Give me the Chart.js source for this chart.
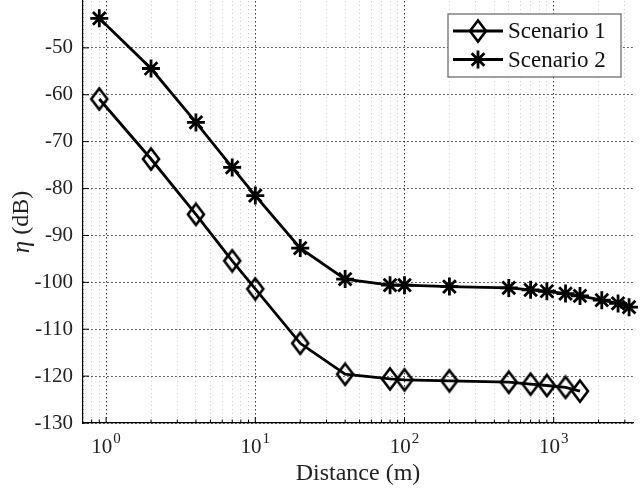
<!DOCTYPE html>
<html>
<head>
<meta charset="utf-8">
<script src="https://cdn.jsdelivr.net/npm/chart.js@4.4.1/dist/chart.umd.min.js"></script>
<style>
  html, body { margin: 0; padding: 0; background: #fff; }
  #wrap { width: 640px; height: 492px; }
</style>
</head>
<body>
<div id="wrap"><canvas id="chart" width="640" height="492"></canvas></div>
<script>
// --- data ---
const seriesNames = ["Scenario 1", "Scenario 2"];

const distances1 = [0.9, 2, 4, 7, 10, 20, 40, 80, 100, 200, 500, 700, 900, 1200, 1500];
const scenario1 = [-60.9, -73.7, -85.5, -95.4, -101.4, -113.0, -119.6, -120.6, -120.8,
                   -121.0, -121.3, -121.7, -122.0, -122.4, -123.2];

const distances2 = [0.9, 2, 4, 7, 10, 20, 40, 80, 100, 200, 500, 700, 900, 1200, 1500,
                    2100, 2700, 3200];
const scenario2 = [-43.7, -54.4, -65.9, -75.5, -81.5, -92.7, -99.3, -100.6, -100.6,
                   -100.9, -101.2, -101.6, -101.9, -102.4, -102.9, -103.8, -104.5, -105.3];

// x ticks are powers of ten: base "10" with these exponents
const xTickValues = [1, 10, 100, 1000];
const xTickExponents = ["0", "1", "2", "3"];
const yTickValues = [-130, -120, -110, -100, -90, -80, -70, -60, -50];

const FONT = "'Liberation Serif', 'Times New Roman', serif";
Chart.defaults.font.family = FONT;
Chart.defaults.color = "#222";

// log-axis helpers
function mantissa(v) {
  const e = Math.floor(Math.log10(v) + 1e-9);
  return v / Math.pow(10, e);
}
function isNice(v) {
  const m = mantissa(v);
  return Math.abs(m - Math.round(m)) < 1e-6;
}
function isDecade(v) {
  return Math.abs(mantissa(v) - 1) < 1e-6;
}

// hollow diamond marker (MATLAB style, a bit taller than wide)
function diamondMarker() {
  const c = document.createElement("canvas");
  c.width = 22; c.height = 26;
  const g = c.getContext("2d");
  g.strokeStyle = "#000";
  g.lineWidth = 2.6;
  g.lineJoin = "miter";
  g.beginPath();
  g.moveTo(11, 2.5);
  g.lineTo(19, 13);
  g.lineTo(11, 23.5);
  g.lineTo(3, 13);
  g.closePath();
  g.stroke();
  return c;
}
const diamond = diamondMarker();

// ticks pointing into the plot area
const innerTicks = {
  id: "innerTicks",
  afterDraw(chart) {
    const { ctx, chartArea: a, scales: { x, y } } = chart;
    ctx.save();
    ctx.strokeStyle = "#000";
    ctx.lineWidth = 1;
    x.ticks.forEach((t) => {
      if (!isNice(t.value)) return;
      const px = x.getPixelForValue(t.value);
      if (px < a.left + 0.5 || px > a.right) return;
      const len = isDecade(t.value) ? 6 : 3.5;
      ctx.beginPath();
      ctx.moveTo(px, a.bottom);
      ctx.lineTo(px, a.bottom - len);
      ctx.stroke();
    });
    y.ticks.forEach((t) => {
      if (!yTickValues.includes(t.value)) return;
      const py = y.getPixelForValue(t.value);
      ctx.beginPath();
      ctx.moveTo(a.left, py);
      ctx.lineTo(a.left + 6, py);
      ctx.stroke();
    });
    ctx.restore();
  }
};

// "10" with a raised exponent, centred on each decade tick
const powerLabels = {
  id: "powerLabels",
  afterDraw(chart) {
    const { ctx, chartArea: a, scales: { x } } = chart;
    ctx.save();
    ctx.fillStyle = "#222";
    ctx.textBaseline = "middle";
    ctx.textAlign = "left";
    xTickValues.forEach((v, i) => {
      const px = x.getPixelForValue(v);
      ctx.font = "21px " + FONT;
      const wBase = ctx.measureText("10").width;
      ctx.font = "15px " + FONT;
      const wExp = ctx.measureText(xTickExponents[i]).width;
      const left = px - (wBase + wExp + 1) / 2;
      ctx.font = "21px " + FONT;
      ctx.fillText("10", left, a.bottom + 24);
      ctx.font = "15px " + FONT;
      ctx.fillText(xTickExponents[i], left + wBase + 1, a.bottom + 16);
    });
    ctx.restore();
  }
};

// y title with an italic eta
const yTitle = {
  id: "yTitle",
  afterDraw(chart) {
    const { ctx } = chart;
    ctx.save();
    ctx.translate(22, 222);
    ctx.rotate(-Math.PI / 2);
    ctx.fillStyle = "#222";
    ctx.textBaseline = "middle";
    ctx.textAlign = "left";
    ctx.font = "italic 25px " + FONT;
    const wEta = ctx.measureText("\u03B7").width;
    ctx.font = "24px " + FONT;
    const wRest = ctx.measureText(" (dB)").width;
    const left = -(wEta + wRest) / 2;
    ctx.font = "italic 25px " + FONT;
    ctx.fillText("\u03B7", left, 0);
    ctx.font = "24px " + FONT;
    ctx.fillText(" (dB)", left + wEta, 0);
    ctx.restore();
  }
};

// boxed legend inside the upper right corner
const boxLegend = {
  id: "boxLegend",
  afterDraw(chart) {
    const { ctx, chartArea: a } = chart;
    const w = 173, h = 63;
    const bx = a.right - 12 - w, by = a.top + 13;
    ctx.save();
    ctx.fillStyle = "#fff";
    ctx.fillRect(bx, by, w, h);
    ctx.strokeStyle = "#6e6e6e";
    ctx.lineWidth = 1.3;
    ctx.strokeRect(bx, by, w, h);
    ctx.font = "23px " + FONT;
    ctx.textBaseline = "middle";
    seriesNames.forEach((name, i) => {
      const cy = by + 17 + i * 28.5;
      ctx.strokeStyle = "#000";
      ctx.lineWidth = 2.8;
      ctx.beginPath();
      ctx.moveTo(bx + 5, cy);
      ctx.lineTo(bx + 55, cy);
      ctx.stroke();
      if (i === 0) {
        ctx.drawImage(diamond, bx + 30 - diamond.width / 2, cy - diamond.height / 2);
      } else {
        ctx.fillStyle = "#000";
        Chart.helpers.drawPoint(ctx, { pointStyle: "star", radius: 9, borderWidth: 2.8, rotation: 0 }, bx + 30, cy);
      }
      ctx.fillStyle = "#111";
      ctx.fillText(name, bx + 60, cy + 1);
    });
    ctx.restore();
  }
};

const majorGrid = "rgba(25,25,25,0.85)";
const minorGrid = "rgba(0,0,0,0.2)";

new Chart(document.getElementById("chart"), {
  type: "line",
  data: {
    datasets: [
      {
        label: seriesNames[0],
        data: distances1.map((d, i) => ({ x: d, y: scenario1[i] })),
        borderColor: "#000",
        borderWidth: 2.8,
        pointStyle: diamond,
        pointRadius: 10,
        pointHoverRadius: 10,
        tension: 0,
        clip: false
      },
      {
        label: seriesNames[1],
        data: distances2.map((d, i) => ({ x: d, y: scenario2[i] })),
        borderColor: "#000",
        backgroundColor: "#000",
        borderWidth: 2.8,
        pointStyle: "star",
        pointRadius: 9,
        pointHoverRadius: 9,
        pointBorderWidth: 2.8,
        pointBorderColor: "#000",
        tension: 0,
        clip: false
      }
    ]
  },
  options: {
    responsive: false,
    animation: false,
    layout: { autoPadding: false, padding: { top: 1, right: 7, bottom: 0, left: 0 } },
    plugins: {
      legend: { display: false },
      tooltip: { enabled: false }
    },
    scales: {
      x: {
        type: "logarithmic",
        min: 0.7,
        max: 3400,
        afterFit: (scale) => {
          scale.height = 69;
          scale.paddingLeft = 0;
          scale.paddingRight = 0;
        },
        grid: {
          drawTicks: false,
          lineWidth: 1,
          color: (ctx) => {
            const v = ctx.tick && ctx.tick.value;
            if (!v || !isNice(v)) return "rgba(0,0,0,0)";
            return isDecade(v) ? majorGrid : minorGrid;
          }
        },
        border: {
          color: "#000",
          width: 1.2,
          dash: (ctx) => {
            const v = ctx.tick && ctx.tick.value;
            if (!v) return [];
            return isDecade(v) ? [1.5, 2.5] : [1, 3];
          }
        },
        ticks: {
          autoSkip: false,
          maxRotation: 0,
          padding: 9,
          font: { size: 21 },
          callback: () => ""
        },
        title: {
          display: true,
          text: "Distance (m)",
          font: { size: 24 },
          color: "#222",
          padding: { top: 0, bottom: 4 }
        }
      },
      y: {
        min: -130,
        max: -40,
        afterFit: (scale) => {
          scale.width = 83;
          scale.paddingTop = 0;
          scale.paddingBottom = 0;
        },
        grid: {
          drawTicks: false,
          lineWidth: 1,
          color: (ctx) => {
            const v = ctx.tick && ctx.tick.value;
            return yTickValues.includes(v) ? majorGrid : "rgba(0,0,0,0)";
          }
        },
        border: {
          color: "#000",
          width: 1.2,
          dash: (ctx) => (ctx.tick ? [1.5, 2.5] : [])
        },
        ticks: {
          stepSize: 10,
          padding: 10,
          font: { size: 21 },
          color: "#222",
          callback: (v) => (yTickValues.includes(v) ? String(v) : null)
        },
        title: { display: false }
      }
    }
  },
  plugins: [innerTicks, powerLabels, yTitle, boxLegend]
});
</script>
</body>
</html>
